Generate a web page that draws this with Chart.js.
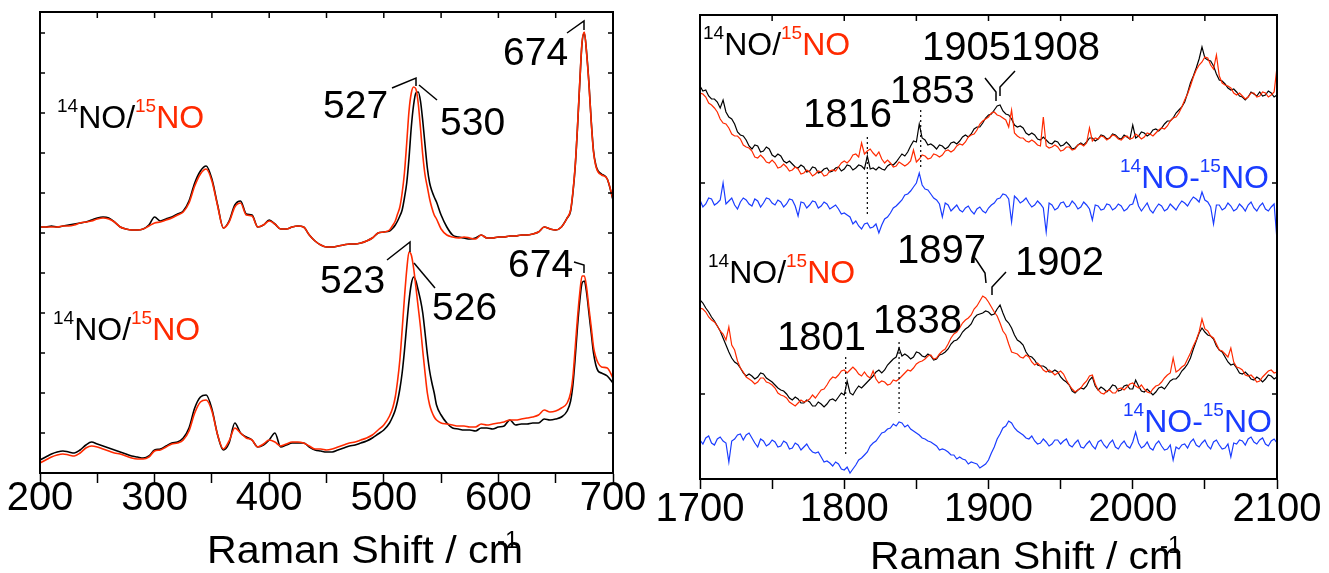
<!DOCTYPE html>
<html>
<head>
<meta charset="utf-8">
<title>Raman 14NO / 15NO</title>
<script src="https://cdn.jsdelivr.net/npm/chart.js@4.4.0/dist/chart.umd.min.js"></script>
<style>
  html, body { margin: 0; padding: 0; background: #fff; }
  #wrap { position: relative; width: 1329px; height: 573px; }
  #wrap canvas { position: absolute; left: 0; top: 0; }
</style>
</head>
<body>
<div id="wrap">
  <canvas id="leftChart" width="1329" height="573"></canvas>
  <canvas id="rightChart" width="1329" height="573"></canvas>
</div>
<script>
// ---- left panel: 200-700 cm-1 (intensity in arbitrary units, offset traces) ----
const shiftL = [
  200,205,210,215,220,225,230,235,240,245,250,255,260,265,270,275,280,285,290,295,
  300,305,310,315,320,325,330,335,340,345,350,355,360,365,370,375,380,385,390,395,
  400,405,410,415,420,425,430,435,440,445,450,455,460,465,470,475,480,485,490,495,
  500,505,
  508,510,512,514,516,518,520,522,524,526,528,530,532,534,536,538,540,542,544,546,
  550,555,560,565,570,575,580,585,590,595,600,605,610,615,620,625,630,635,640,645,
  650,655,660,
  663,665,667,669,671,673,675,677,679,681,683,685,687,
  690,695,700
];

// upper pair (527 / 530 band)
const upper14L = [
  246,246,247,246,247,248,249,250,251,253,255,256,255,251,246,244,243,243,244,248,
  256,252,254,256,259,262,272,290,302,307,294,268,245,252,268,272,259,258,246,248,
  253,249,244,244,246,247,246,238,232,228,226,226,227,228,229,229,230,232,235,240,
  241,242,
  245,248,252,257,263,275,290,315,346,368,380,381,372,352,328,305,290,282,276,271,
  258,246,238,236,235,234,235,238,235,235,236,236,237,237,238,238,239,241,246,244,
  243,246,255,
  262,280,306,345,390,430,440,420,390,352,322,308,302,
  299,294,273
];
const upper15L = [
  246,246,246,246,247,247,248,250,251,252,254,255,254,251,246,244,243,243,244,247,
  250,251,253,255,258,261,270,287,299,304,292,267,245,251,266,270,258,257,246,248,
  252,249,244,244,246,247,246,238,232,228,226,226,227,228,229,229,230,232,235,240,
  241,243,
  248,252,259,266,280,300,330,362,380,386,384,370,345,318,298,286,274,265,258,254,
  244,238,236,235,236,235,234,238,235,235,236,236,237,237,238,238,239,241,246,244,
  243,246,255,
  263,281,307,346,391,431,441,419,389,351,321,307,301,
  298,294,274
];

// lower pair (523 / 526 band)
const lower14L = [
  13,16,19,21,22,21,20,23,28,31,29,27,25,23,21,19,17,16,15,17,
  23,24,27,30,31,35,45,65,76,78,64,38,23,30,50,40,36,33,26,28,
  33,40,26,28,30,30,30,26,23,22,21,21,23,25,27,28,30,32,35,39,
  43,50,
  57,63,72,84,100,122,148,172,189,196,192,183,173,160,140,119,102,90,80,68,
  58,50,45,44,43,43,42,45,45,44,46,47,53,48,49,49,50,50,54,53,
  54,56,62,
  72,88,115,146,172,190,192,180,160,140,120,108,102,
  100,97,90
];
const lower15L = [
  10,13,16,18,19,18,17,20,25,27,26,24,22,20,19,17,15,14,14,16,
  22,23,26,29,30,33,42,60,71,73,62,38,24,32,45,40,35,33,26,29,
  33,31,27,29,31,31,30,27,24,24,23,24,26,28,30,31,33,35,38,43,
  48,57,
  66,76,92,113,143,175,203,221,218,205,186,166,146,122,100,80,68,61,56,53,
  50,49,48,47,47,46,46,49,48,49,50,51,53,53,54,55,56,58,63,61,
  62,65,70,
  80,96,125,155,180,197,197,185,165,146,126,116,110,
  106,105,95
];

// ---- right panel: 1700-2100 cm-1, 2 cm-1 steps ----
const shiftR = [
  1700,1702,1704,1706,1708,1710,1712,1714,1716,1718,
  1720,1722,1724,1726,1728,1730,1732,1734,1736,1738,
  1740,1742,1744,1746,1748,1750,1752,1754,1756,1758,
  1760,1762,1764,1766,1768,1770,1772,1774,1776,1778,
  1780,1782,1784,1786,1788,1790,1792,1794,1796,1798,
  1800,1802,1804,1806,1808,1810,1812,1814,1816,1818,
  1820,1822,1824,1826,1828,1830,1832,1834,1836,1838,
  1840,1842,1844,1846,1848,1850,1852,1854,1856,1858,
  1860,1862,1864,1866,1868,1870,1872,1874,1876,1878,
  1880,1882,1884,1886,1888,1890,1892,1894,1896,1898,
  1900,1902,1904,1906,1908,1910,1912,1914,1916,1918,
  1920,1922,1924,1926,1928,1930,1932,1934,1936,1938,
  1940,1942,1944,1946,1948,1950,1952,1954,1956,1958,
  1960,1962,1964,1966,1968,1970,1972,1974,1976,1978,
  1980,1982,1984,1986,1988,1990,1992,1994,1996,1998,
  2000,2002,2004,2006,2008,2010,2012,2014,2016,2018,
  2020,2022,2024,2026,2028,2030,2032,2034,2036,2038,
  2040,2042,2044,2046,2048,2050,2052,2054,2056,2058,
  2060,2062,2064,2066,2068,2070,2072,2074,2076,2078,
  2080,2082,2084,2086,2088,2090,2092,2094,2096,2098,
  2100
];

const upper14R = [
  393,388,389,383,380,380,377,371,379,367,
  362,360,355,347,344,343,339,333,330,334,
  333,327,328,332,330,324,322,325,323,318,
  316,318,315,312,311,314,312,307,308,312,
  311,306,307,310,311,307,308,311,312,308,
  310,314,313,309,311,314,313,310,323,310,
  311,309,312,310,309,313,315,314,317,321,
  325,323,327,333,338,337,355,341,339,334,
  335,333,330,334,333,330,332,336,337,335,
  338,342,344,342,345,350,352,352,356,361,
  364,365,369,373,374,368,365,364,360,354,
  352,353,351,346,344,346,344,340,339,342,
  339,336,335,338,337,333,334,337,334,330,
  331,334,336,334,337,341,341,338,340,344,
  343,340,341,345,344,341,340,344,342,340,
  354,341,343,347,346,343,345,349,350,348,
  351,355,358,358,361,366,369,372,377,386,
  396,403,411,420,432,421,419,418,413,405,
  399,398,395,391,389,390,387,383,382,379,
  382,387,385,383,387,383,384,388,386,382,
  384
];
const upper15R = [
  386,385,382,376,374,371,367,360,356,355,
  351,345,343,343,340,334,332,331,328,322,
  321,324,321,317,316,319,316,311,312,315,
  312,308,309,312,310,305,306,309,307,303,
  305,308,307,303,304,308,309,308,312,316,
  318,316,319,324,325,322,336,325,328,330,
  326,323,327,320,316,319,316,312,313,317,
  315,313,315,318,329,317,320,324,323,320,
  321,325,324,322,324,328,329,327,329,333,
  335,334,337,342,344,345,349,355,358,360,
  362,366,367,364,363,361,359,352,369,346,
  343,341,341,338,337,339,337,334,333,362,
  333,331,332,334,332,328,329,332,332,329,
  330,334,335,333,336,351,338,341,340,343,
  342,339,341,344,343,340,339,342,343,340,
  341,345,343,340,342,346,345,343,346,349,
  351,350,353,358,361,362,366,372,379,385,
  393,402,409,414,417,422,421,414,410,424,
  403,396,394,393,391,386,384,386,383,380,
  382,386,386,382,383,387,386,382,384,387,
  412
];
const upperDiffR = [
  279,272,275,281,280,274,276,279,296,275,
  278,281,274,270,277,281,279,275,273,280,
  278,272,276,281,280,276,274,279,277,272,
  275,280,279,273,263,277,276,271,274,278,
  277,271,273,277,275,270,272,274,270,265,
  266,264,262,255,258,253,250,255,256,251,
  252,255,246,254,260,262,266,271,273,276,
  279,284,285,288,292,296,306,294,290,289,
  285,281,279,275,262,276,274,268,271,274,
  269,267,271,273,268,265,270,272,268,266,
  271,274,276,280,281,285,284,280,257,283,
  280,276,278,281,276,272,274,278,275,271,
  247,276,274,269,271,276,277,272,273,278,
  275,270,272,277,274,270,259,274,273,269,
  270,275,274,269,271,275,273,268,270,274,
  275,284,273,268,272,276,269,266,271,275,
  273,268,270,275,272,269,274,278,276,273,
  278,282,280,277,287,279,277,272,255,274,
  274,269,271,276,273,268,270,275,272,268,
  274,277,271,268,273,276,270,268,272,275,
  239
];

const lower14R = [
  179,176,171,167,162,158,153,148,141,134,
  127,121,117,115,111,106,103,105,103,100,
  102,106,105,101,99,97,94,91,89,88,
  85,81,79,82,80,76,76,79,77,73,
  73,77,75,72,75,79,80,78,82,86,
  84,98,86,84,89,93,91,94,97,100,
  103,107,109,106,109,114,117,120,122,131,
  123,125,123,120,122,127,126,123,122,125,
  123,119,120,124,125,127,130,135,138,139,
  142,147,150,152,155,161,164,165,166,168,
  167,164,165,170,174,166,159,156,151,144,
  139,137,134,127,123,122,119,114,113,113,
  111,107,107,109,107,102,99,97,94,88,
  86,89,91,90,93,99,102,93,89,92,
  90,87,90,94,93,88,89,93,94,90,
  90,99,93,88,87,90,87,84,87,91,
  92,90,94,98,100,100,103,108,111,115,
  121,130,138,146,151,147,144,143,140,133,
  129,127,122,117,114,115,111,106,105,107,
  104,100,99,102,100,97,100,104,103,100,
  102
];
const lower15R = [
  171,170,167,162,159,157,153,148,145,139,
  152,134,129,118,111,107,102,100,98,95,
  97,101,101,97,96,94,91,86,84,83,
  81,77,75,73,76,79,77,78,80,84,
  81,85,89,90,94,99,102,101,104,108,
  109,106,109,112,109,105,103,107,103,101,
  108,100,96,98,97,94,95,99,98,100,
  103,106,109,108,111,115,117,118,120,123,
  124,120,121,125,128,130,135,141,145,147,
  151,156,159,161,164,170,173,178,183,181,
  177,172,167,163,156,148,144,135,127,126,
  125,122,121,124,122,117,114,116,113,109,
  107,109,107,104,106,108,105,99,94,90,
  87,89,91,95,98,103,104,95,89,86,
  85,88,89,86,86,90,91,89,92,95,
  96,93,91,94,90,87,86,90,93,94,
  97,101,104,106,121,107,109,112,114,120,
  126,133,139,147,160,150,148,143,141,135,
  129,128,125,122,131,117,112,111,109,104,
  103,104,101,97,98,102,105,108,109,106,
  107
];
const lowerDiffR = [
  39,35,41,43,36,34,40,42,38,36,
  17,38,40,44,45,39,44,46,41,36,
  32,40,38,33,35,39,37,32,33,38,
  36,30,31,36,34,29,32,35,30,27,
  26,27,22,17,18,16,13,17,15,10,
  9,12,6,10,14,19,21,24,27,33,
  36,38,42,46,47,50,51,55,53,57,
  56,52,54,50,48,46,44,41,40,38,
  37,35,33,29,30,29,27,24,24,20,
  22,20,19,15,17,16,15,11,13,15,
  19,26,32,40,45,51,53,58,56,51,
  48,46,44,41,40,43,38,35,36,40,
  37,33,35,39,39,35,38,40,34,32,
  36,39,32,31,35,38,33,30,37,39,
  34,31,36,39,32,30,35,38,33,31,
  37,47,36,31,33,37,31,29,35,38,
  33,29,30,34,19,32,30,34,35,31,
  37,40,34,32,36,39,33,30,37,39,
  34,30,31,35,22,36,35,39,38,34,
  40,42,37,35,39,41,35,33,38,40,
  36
];

const ticksRightY = [85, 296];

const BLACK = '#000000';
const RED = '#ff2a00';
const BLUE = '#1a3cff';
const FONT = '"Liberation Sans", Arial, Helvetica, sans-serif';

Chart.defaults.font.family = FONT;
Chart.defaults.color = '#000';

function series(xs, ys, color, width, smooth) {
  return {
    data: xs.map((x, i) => ({ x: x, y: ys[i] })),
    borderColor: color,
    borderWidth: width,
    pointRadius: 0,
    fill: false,
    tension: 0,
    cubicInterpolationMode: smooth ? 'monotone' : 'default'
  };
}

// text with superscripts; parts = [text, colour, isSup]
function richText(ctx, x, y, parts, size) {
  let cx = x;
  parts.forEach(([t, c, sup]) => {
    const fs = sup ? Math.round(size * 0.6) : size;
    ctx.font = fs + 'px ' + FONT;
    ctx.fillStyle = c;
    ctx.fillText(t, cx, sup ? y - size * 0.5 : y);
    cx += ctx.measureText(t).width;
  });
}

function polyline(ctx, pts) {
  ctx.beginPath();
  pts.forEach((p, i) => i ? ctx.lineTo(p[0], p[1]) : ctx.moveTo(p[0], p[1]));
  ctx.stroke();
}

// axis title stretched to the width it has in the figure
function axisTitle(ctx, x, y, width, supX, supY) {
  ctx.save();
  ctx.font = '38px ' + FONT;
  ctx.fillStyle = '#000';
  const txt = 'Raman Shift / cm';
  const w = ctx.measureText(txt).width;
  ctx.translate(x, y);
  ctx.scale(width / w, 1);
  ctx.fillText(txt, 0, 0);
  ctx.restore();
  ctx.font = '24px ' + FONT;
  ctx.fillStyle = '#000';
  ctx.fillText('-1', supX, supY);
}

// box, inward ticks on top / left / right
const framePlugin = {
  id: 'frame',
  afterDraw(chart) {
    const { ctx, chartArea: a, scales: { x, y } } = chart;
    ctx.save();
    ctx.strokeStyle = '#000';
    ctx.lineWidth = 2;
    ctx.strokeRect(a.left, a.top, a.right - a.left, a.bottom - a.top);
    ctx.lineWidth = 1.5;
    x.ticks.forEach(t => {
      const px = x.getPixelForValue(t.value);
      polyline(ctx, [[px, a.top], [px, a.top + 6]]);
    });
    y.ticks.forEach(t => {
      const py = y.getPixelForValue(t.value);
      polyline(ctx, [[a.left, py], [a.left + 5, py]]);
      polyline(ctx, [[a.right - 5, py], [a.right, py]]);
    });
    ctx.restore();
  }
};

function xScale(min, max, height, pad) {
  return {
    type: 'linear', min: min, max: max,
    border: { display: true, width: 2, color: '#000' },
    grid: { drawOnChartArea: false, drawTicks: true, tickLength: 10, tickWidth: 1.5, color: '#000' },
    ticks: {
      stepSize: 50, autoSkip: false, maxRotation: 0, padding: pad,
      font: { size: 40 }, color: '#000',
      callback: v => (v % 100 === 0 ? String(v) : '')
    },
    afterFit: s => { s.height = height; }
  };
}

function yScale(max, step, fixed) {
  const cfg = {
    min: 0, max: max,
    ticks: { display: false, stepSize: step },
    grid: { display: false },
    border: { display: false },
    afterFit: s => { s.width = 0; }
  };
  if (fixed) cfg.afterBuildTicks = s => { s.ticks = fixed.map(v => ({ value: v })); };
  return cfg;
}

const baseOpts = {
  responsive: false,
  animation: false,
  events: [],
  plugins: { legend: { display: false }, tooltip: { enabled: false } }
};

// ---- left chart ----
const leftNotes = {
  id: 'leftNotes',
  afterDraw(chart) {
    const ctx = chart.ctx;
    ctx.save();
    ctx.textBaseline = 'alphabetic';
    ctx.font = '39px ' + FONT;
    ctx.fillStyle = '#000';
    [['527', 323, 118], ['530', 440, 135], ['674', 503, 65],
     ['523', 320, 293], ['526', 432, 320], ['674', 508, 277]]
      .forEach(([t, x, y]) => ctx.fillText(t, x, y));
    ctx.strokeStyle = '#000';
    ctx.lineWidth = 1.5;
    [[[392, 88], [416, 78], [416, 86]],
     [[419, 85], [437, 100]],
     [[567, 33], [584, 21], [584, 30]],
     [[387, 260], [410, 242], [410, 252]],
     [[414, 263], [435, 288]],
     [[574, 262], [584, 265], [584, 273]]].forEach(p => polyline(ctx, p));
    richText(ctx, 57, 128, [['14', BLACK, true], ['NO/', BLACK], ['15', RED, true], ['NO', RED]], 32);
    richText(ctx, 53, 340, [['14', BLACK, true], ['NO/', BLACK], ['15', RED, true], ['NO', RED]], 32);
    axisTitle(ctx, 207, 563, 316, 497, 548);
    ctx.restore();
  }
};

new Chart(document.getElementById('leftChart'), {
  type: 'line',
  data: {
    datasets: [
      series(shiftL, upper15L, RED, 1.6, true),
      series(shiftL, upper14L, BLACK, 1.6, true),
      series(shiftL, lower15L, RED, 1.6, true),
      series(shiftL, lower14L, BLACK, 1.6, true)
    ]
  },
  options: Object.assign({}, baseOpts, {
    layout: { padding: { left: 40, right: 716, top: 12, bottom: 0 } },
    scales: { x: xScale(200, 700, 100, -8), y: yScale(461, 40) }
  }),
  plugins: [framePlugin, leftNotes]
});

// ---- right chart ----
const rightNotes = {
  id: 'rightNotes',
  afterDraw(chart) {
    const { ctx, scales: { x, y } } = chart;
    ctx.save();
    // dotted guides at the marked bands
    ctx.strokeStyle = '#000';
    ctx.lineWidth = 1.2;
    ctx.setLineDash([2, 3]);
    [[1816, 342, 262], [1853, 369, 309], [1801, 122, 22], [1838, 137, 66]].forEach(([s, y0, y1]) => {
      const px = x.getPixelForValue(s);
      polyline(ctx, [[px, y.getPixelForValue(y0)], [px, y.getPixelForValue(y1)]]);
    });
    ctx.setLineDash([]);
    ctx.font = '40px ' + FONT;
    ctx.fillStyle = '#000';
    [['1816', 803, 127], ['19051908', 922, 60], ['1801', 777, 350],
     ['1838', 873, 333], ['1897', 897, 263], ['1902', 1015, 275]]
      .forEach(([t, px, py]) => ctx.fillText(t, px, py));
    ctx.font = '38px ' + FONT;
    ctx.fillText('1853', 890, 103);
    ctx.lineWidth = 1.5;
    [[[985, 78], [996, 92], [996, 101]],
     [[1015, 71], [1000, 87], [1000, 96]],
     [[975, 258], [985, 273], [986, 283]],
     [[1006, 272], [992, 287], [992, 295]]].forEach(p => polyline(ctx, p));
    richText(ctx, 703, 55, [['14', BLACK, true], ['NO/', BLACK], ['15', RED, true], ['NO', RED]], 32);
    richText(ctx, 708, 283, [['14', BLACK, true], ['NO/', BLACK], ['15', RED, true], ['NO', RED]], 32);
    richText(ctx, 1120, 188, [['14', BLUE, true], ['NO-', BLUE], ['15', BLUE, true], ['NO', BLUE]], 32);
    richText(ctx, 1123, 432, [['14', BLUE, true], ['NO-', BLUE], ['15', BLUE, true], ['NO', BLUE]], 32);
    axisTitle(ctx, 870, 569, 313, 1160, 553);
    ctx.restore();
  }
};

new Chart(document.getElementById('rightChart'), {
  type: 'line',
  data: {
    datasets: [
      series(shiftR, upper15R, RED, 1.2, false),
      series(shiftR, upper14R, BLACK, 1.2, false),
      series(shiftR, upperDiffR, BLUE, 1.2, false),
      series(shiftR, lower15R, RED, 1.2, false),
      series(shiftR, lower14R, BLACK, 1.2, false),
      series(shiftR, lowerDiffR, BLUE, 1.2, false)
    ]
  },
  options: Object.assign({}, baseOpts, {
    layout: { padding: { left: 700, right: 52, top: 15, bottom: 0 } },
    scales: { x: xScale(1700, 2100, 94, -3), y: yScale(464, 100, ticksRightY) }
  }),
  plugins: [framePlugin, rightNotes]
});
</script>
</body>
</html>
